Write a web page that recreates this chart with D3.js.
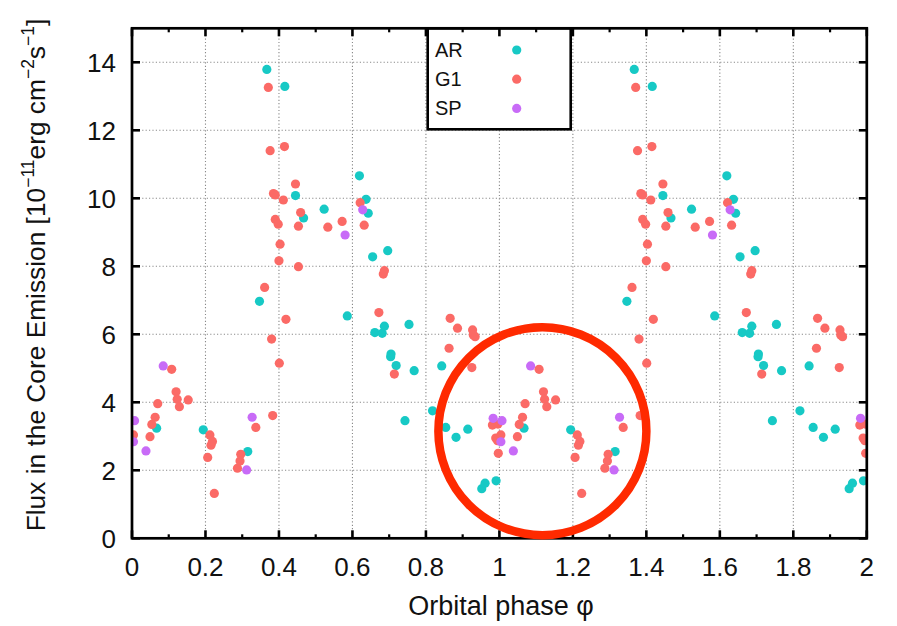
<!DOCTYPE html>
<html>
<head>
<meta charset="utf-8">
<script src="https://cdn.jsdelivr.net/npm/d3@7"></script>
<style>
  body { margin: 0; background: #fff; }
  svg { display: block; }
  text { font-family: "Liberation Sans", Arial, sans-serif; fill: #111; }
</style>
</head>
<body>
<svg id="chart" width="897" height="626"></svg>
<script>
// ---------- data (orbital phase in [0,1), flux in 1e-11 erg cm^-2 s^-1) ----------
const arPhase = [0.067, 0.194, 0.315, 0.347, 0.367, 0.416, 0.445, 0.467, 0.523, 0.586, 0.619, 0.637, 0.643, 0.655, 0.661, 0.681, 0.687, 0.696, 0.704, 0.705, 0.719, 0.743, 0.754, 0.768, 0.818, 0.843, 0.854, 0.882, 0.914, 0.952, 0.961, 0.991];
const arFlux  = [3.24, 3.19, 2.55, 6.97, 13.79, 13.29, 10.08, 9.42, 9.68, 6.54, 10.66, 9.97, 9.56, 8.28, 6.05, 6.03, 6.24, 8.46, 5.34, 5.42, 5.08, 3.46, 6.29, 4.93, 3.75, 5.07, 3.26, 2.97, 3.21, 1.46, 1.62, 1.69];

const g1Phase = [0.004, 0.049, 0.054, 0.063, 0.070, 0.108, 0.120, 0.123, 0.129, 0.153, 0.206, 0.212, 0.215, 0.219, 0.224, 0.287, 0.294, 0.296, 0.337, 0.361, 0.371, 0.376, 0.380, 0.383, 0.385, 0.390, 0.390, 0.398, 0.400, 0.401, 0.403, 0.412, 0.415, 0.419, 0.445, 0.453, 0.453, 0.459, 0.533, 0.572, 0.621, 0.632, 0.672, 0.684, 0.687, 0.714, 0.863, 0.866, 0.886, 0.925, 0.927, 0.929, 0.934, 0.981, 0.990, 0.995, 0.996, 0.997];
const g1Flux  = [3.04, 2.99, 3.35, 3.56, 3.96, 4.97, 4.31, 4.09, 3.87, 4.07, 2.38, 3.04, 2.74, 2.85, 1.32, 2.06, 2.27, 2.47, 3.26, 7.38, 13.26, 11.40, 5.86, 3.61, 10.14, 10.10, 9.38, 9.24, 8.16, 5.15, 8.65, 9.95, 11.52, 6.44, 10.42, 7.99, 9.18, 9.58, 9.15, 9.32, 9.87, 9.21, 6.64, 7.77, 7.87, 4.83, 5.59, 6.47, 6.18, 5.02, 6.13, 5.98, 5.93, 3.33, 2.95, 2.87, 3.36, 2.50];

const spPhase = [0.004, 0.007, 0.038, 0.085, 0.312, 0.327, 0.580, 0.628, 0.983];
const spFlux  = [2.84, 3.46, 2.57, 5.07, 2.01, 3.56, 8.92, 9.66, 3.53];

const seriesNames  = ["AR", "G1", "SP"];
const seriesColors = ["#17c9c5", "#fb6a66", "#c86bf7"];
const cycles = [0, 1];                       // phase-folded curve shown twice
const xTicks = [0, 0.2, 0.4, 0.6, 0.8, 1, 1.2, 1.4, 1.6, 1.8, 2];
const xTickLabels = ["0", "0.2", "0.4", "0.6", "0.8", "1", "1.2", "1.4", "1.6", "1.8", "2"];
const xMinorTicks = [0.1, 0.3, 0.5, 0.7, 0.9, 1.1, 1.3, 1.5, 1.7, 1.9];
const yTicks = [0, 2, 4, 6, 8, 10, 12, 14];
// highlighted region (annotation circle centre, in data units)
const highlightCenter = [1.117, 3.15];

// ---------- layout ----------
const svg = d3.select("#chart");
const L = 132, R = 866.8, T = 28.3, B = 538.3;
const x = d3.scaleLinear().domain([0, 2]).range([L, R]);
const y = d3.scaleLinear().domain([0, 15]).range([B, T]);

svg.append("defs").append("clipPath").attr("id", "plotclip")
  .append("rect").attr("x", L).attr("y", T).attr("width", R - L).attr("height", B - T);

// grid
const grid = svg.append("g").attr("stroke", "#8a8a8a").attr("stroke-width", 1.1)
  .attr("stroke-dasharray", "1.2,2.2");
grid.selectAll("line.gx").data(xTicks.slice(1, -1)).join("line")
  .attr("x1", d => x(d)).attr("x2", d => x(d)).attr("y1", T).attr("y2", B);
grid.selectAll("line.gy").data(yTicks.slice(1)).join("line")
  .attr("x1", L).attr("x2", R).attr("y1", d => y(d)).attr("y2", d => y(d));

// legend box (white, covers grid)
const legend = svg.append("g");
legend.append("rect").attr("x", 427.7).attr("y", T).attr("width", 143).attr("height", 101)
  .attr("fill", "#fff").attr("stroke", "#000").attr("stroke-width", 2.6);

// points
const plot = svg.append("g").attr("clip-path", "url(#plotclip)");
const series = [
  { phase: arPhase, flux: arFlux },
  { phase: g1Phase, flux: g1Flux },
  { phase: spPhase, flux: spFlux }
];
series.forEach((s, i) => {
  const pts = [];
  cycles.forEach(c => s.phase.forEach((p, j) => pts.push([p + c, s.flux[j]])));
  plot.append("g").selectAll("circle").data(pts).join("circle")
    .attr("cx", d => x(d[0])).attr("cy", d => y(d[1])).attr("r", 4.6)
    .attr("fill", seriesColors[i]);
});

// legend entries
seriesNames.forEach((n, i) => {
  const yy = 50 + i * 29.2;
  legend.append("text").attr("x", 435).attr("y", yy).attr("dy", "0.35em")
    .attr("font-size", 20).text(n);
  legend.append("circle").attr("cx", 516.7).attr("cy", yy).attr("r", 4.6)
    .attr("fill", seriesColors[i]);
});

// frame
svg.append("rect").attr("x", L).attr("y", T).attr("width", R - L).attr("height", B - T)
  .attr("fill", "none").attr("stroke", "#000").attr("stroke-width", 2.7);

// ticks (inward)
const tk = svg.append("g").attr("stroke", "#000");
tk.selectAll("line.xb").data(xTicks).join("line").attr("stroke-width", 2.6)
  .attr("x1", d => x(d)).attr("x2", d => x(d)).attr("y1", B).attr("y2", B - 8);
tk.selectAll("line.xt").data(xTicks).join("line").attr("stroke-width", 2.6)
  .attr("x1", d => x(d)).attr("x2", d => x(d)).attr("y1", T).attr("y2", T + 8);
tk.selectAll("line.xbm").data(xMinorTicks).join("line").attr("stroke-width", 2.2)
  .attr("x1", d => x(d)).attr("x2", d => x(d)).attr("y1", B).attr("y2", B - 4);
tk.selectAll("line.xtm").data(xMinorTicks).join("line").attr("stroke-width", 2.2)
  .attr("x1", d => x(d)).attr("x2", d => x(d)).attr("y1", T).attr("y2", T + 4);
tk.selectAll("line.yl").data(yTicks).join("line").attr("stroke-width", 2.6)
  .attr("x1", L).attr("x2", L + 8).attr("y1", d => y(d)).attr("y2", d => y(d));
tk.selectAll("line.yr").data(yTicks).join("line").attr("stroke-width", 2.6)
  .attr("x1", R).attr("x2", R - 8).attr("y1", d => y(d)).attr("y2", d => y(d));

// tick labels
svg.append("g").selectAll("text").data(xTicks).join("text")
  .attr("x", d => x(d)).attr("y", 576).attr("text-anchor", "middle")
  .attr("font-size", 26).text((d, i) => xTickLabels[i]);
svg.append("g").selectAll("text").data(yTicks).join("text")
  .attr("x", 116).attr("y", d => y(d)).attr("dy", "0.36em").attr("text-anchor", "end")
  .attr("font-size", 26).text(d => d);

// axis titles
svg.append("text").attr("x", 501).attr("y", 615).attr("text-anchor", "middle")
  .attr("font-size", 27).text("Orbital phase φ");

const yt = svg.append("text").attr("transform", "translate(45,275) rotate(-90)")
  .attr("text-anchor", "middle").attr("font-size", 26.3);
yt.append("tspan").text("Flux in the Core Emission [10");
yt.append("tspan").attr("font-size", 17.5).attr("dy", -11).text("−11");
yt.append("tspan").attr("dy", 11).text("erg cm");
yt.append("tspan").attr("font-size", 17.5).attr("dy", -11).text("−2");
yt.append("tspan").attr("dy", 11).text("s");
yt.append("tspan").attr("font-size", 17.5).attr("dy", -11).text("−1");
yt.append("tspan").attr("dy", 11).text("]");

// annotation circle
svg.append("circle").attr("cx", x(highlightCenter[0])).attr("cy", y(highlightCenter[1]))
  .attr("r", 104).attr("fill", "none").attr("stroke", "#ff2a00").attr("stroke-width", 8.5);
</script>
</body>
</html>
